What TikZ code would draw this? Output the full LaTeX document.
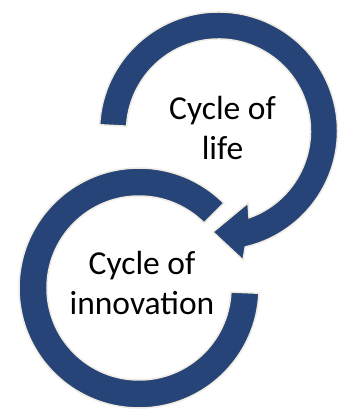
\documentclass[tikz,border=0pt]{standalone}
\usepackage{fontspec}
\setmainfont{Carlito}
\usetikzlibrary{calc}
\definecolor{ringblue}{RGB}{38,68,120}
\definecolor{cream}{RGB}{238,235,224}
\tikzset{
  ring/.style={fill=ringblue, draw=cream, line width=1.5pt, line join=miter},
  label/.style={align=center, font=\fontsize{33.5}{40}\selectfont, text=black, inner sep=0pt}
}
\begin{document}
\begin{tikzpicture}[x=1pt,y=1pt]
\useasboundingbox (0,0) rectangle (339,409);
\fill[white] (0,0) rectangle (339,409);
\coordinate (cu) at (218.5,278);
\coordinate (cl) at (139,121);
% lower ring (cycle of innovation)
\path[ring] ($(cl)+(45:120)$) arc[start angle=45, end angle=357.5, radius=120]
  -- ($(cl)+(357.5:92)$) arc[start angle=357.5, end angle=45, radius=92] -- cycle;
% upper arrow (cycle of life)
\coordinate (barbl) at (243,149);
\coordinate (tip) at (213,177);
\coordinate (barbu) at (248,206);
\path[ring] ($(cu)+(177:119)$) arc[start angle=177, end angle=-77, radius=119]
  -- (barbl) -- (tip) -- (barbu)
  -- ($(cu)+(-70.6:92)$) arc[start angle=-70.6, end angle=177, radius=92] -- cycle;
\node[label, anchor=base] (life) at (222.5,249) {Cycle of\\life};
\node[label, anchor=base] (innov) at (142,94) {Cycle of\\innovation};
\end{tikzpicture}
\end{document}
